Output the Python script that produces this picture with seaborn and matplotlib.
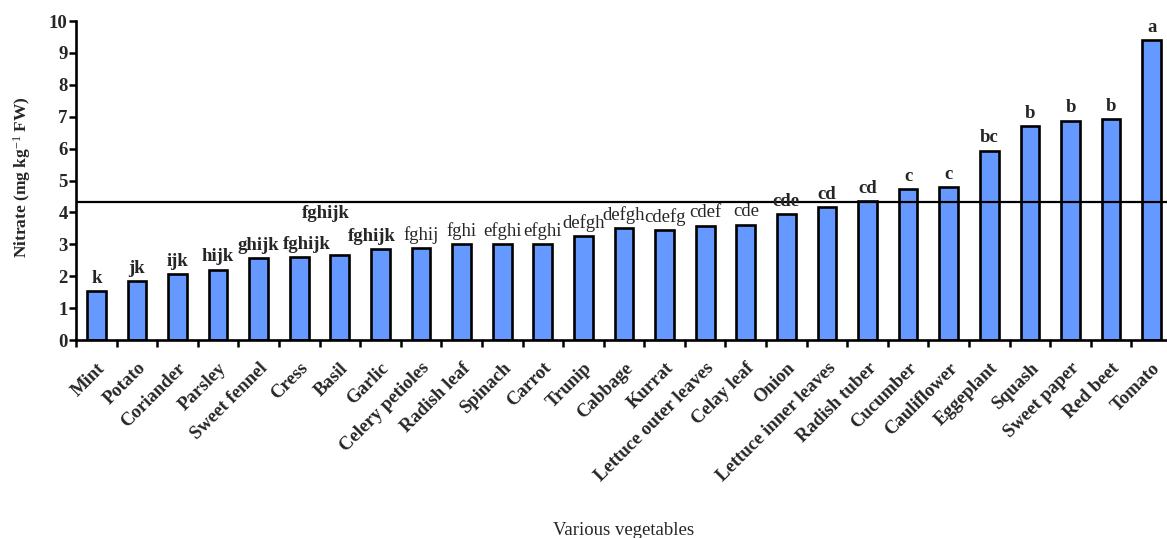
import numpy as np
import matplotlib
matplotlib.use("Agg")
import matplotlib.pyplot as plt
from matplotlib.transforms import ScaledTranslation
import seaborn as sns

# Nitrate content of vegetables (mg kg-1 FW), sorted ascending
vegetables = ["Mint", "Potato", "Coriander", "Parsley", "Sweet fennel", "Cress", "Basil",
              "Garlic", "Celery petioles", "Radish leaf", "Spinach", "Carrot", "Trunip",
              "Cabbage", "Kurrat", "Lettuce outer leaves", "Celay leaf", "Onion",
              "Lettuce inner leaves", "Radish tuber", "Cucumber", "Cauliflower",
              "Eggeplant", "Squash", "Sweet paper", "Red beet", "Tomato"]
nitrate = [1.53, 1.85, 2.06, 2.21, 2.57, 2.60, 2.66,
           2.86, 2.88, 3.02, 3.02, 3.01, 3.26,
           3.50, 3.46, 3.59, 3.62, 3.95,
           4.17, 4.36, 4.73, 4.79,
           5.94, 6.72, 6.88, 6.93, 9.41]
groups = ["k", "jk", "ijk", "hijk", "ghijk", "fghijk", "fghijk",
          "fghijk", "fghij", "fghi", "efghi", "efghi", "defgh",
          "defgh", "cdefg", "cdef", "cde", "cde",
          "cd", "cd", "c", "c",
          "bc", "b", "b", "b", "a"]
reference_level = 4.32

sns.set_theme(style="white")
plt.rcParams["font.family"] = ["Liberation Serif", "DejaVu Serif"]
plt.rcParams["mathtext.fontset"] = "custom"
plt.rcParams["mathtext.rm"] = "Liberation Serif"
plt.rcParams["mathtext.it"] = "Liberation Serif:italic"
plt.rcParams["mathtext.bf"] = "Liberation Serif:bold"

fig = plt.figure(figsize=(11.67, 5.38), dpi=100)
ax = fig.add_axes([0.0651, 0.368, 0.9392, 0.5929])

sns.barplot(x=vegetables, y=nitrate, color="#6699ff", saturation=1,
            edgecolor="black", linewidth=1.9, width=0.46, ax=ax)

ax.axhline(reference_level, color="black", lw=1.6, zorder=3)

# significance letters above each bar; a few are nudged sideways so
# neighbouring labels do not collide, and Basil's sits on a second row
regular = set(range(8, 17))
nudge = {"Cress": (0.2, 0.0), "Basil": (-0.35, 0.92), "Garlic": (-0.2, 0.0)}
for i, (v, g) in enumerate(zip(nitrate, groups)):
    dx, dy = nudge.get(vegetables[i], (0.0, 0.0))
    ax.text(i + dx, v + 0.13 + dy, g, ha="center", va="bottom", fontsize=13.5,
            fontweight="normal" if i in regular else "bold")

ax.set_ylim(0, 10)
ax.set_xlim(-0.5, len(vegetables) - 0.5)
ax.set_yticks(range(0, 11))
ax.set_yticklabels([str(t) for t in range(0, 11)], fontsize=13.5, fontweight="bold")

# ticks between categories, names centred under the bars
ax.set_xticks(np.arange(-0.5, len(vegetables), 1.0))
ax.set_xticklabels([])
ax.set_xticks(np.arange(len(vegetables)), minor=True)
ax.set_xticklabels(vegetables, minor=True, rotation=45, ha="right", va="top",
                   rotation_mode="anchor", fontsize=13.5, fontweight="bold")
shift = ScaledTranslation(6 / 72, 0, fig.dpi_scale_trans)
for lbl in ax.get_xticklabels(minor=True):
    lbl.set_transform(lbl.get_transform() + shift)

ax.tick_params(axis="x", which="major", direction="out", length=5, width=1.8,
               bottom=True, color="black")
ax.tick_params(axis="x", which="minor", length=0, pad=14, bottom=True)
ax.tick_params(axis="y", direction="out", length=5, width=1.8, pad=1,
               left=True, color="black")

for side in ("top", "right"):
    ax.spines[side].set_visible(False)
for side in ("left", "bottom"):
    ax.spines[side].set_linewidth(1.9)
    ax.spines[side].set_color("black")

ax.set_ylabel(r"Nitrate (mg kg$^{-1}$ FW)", fontsize=12.5, fontweight="bold")
ax.yaxis.set_label_coords(-0.039, 0.511)
ax.set_xlabel("Various vegetables", fontsize=13.5)
ax.xaxis.set_label_coords(0.5, -0.57)
ax.grid(False)

fig.savefig("out.png", dpi=100)
